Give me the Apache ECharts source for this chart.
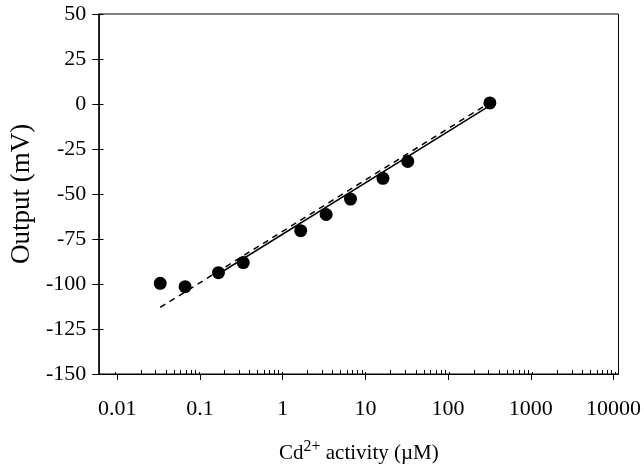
<!DOCTYPE html>
<html>
<head>
<meta charset="utf-8">
<script src="https://cdn.jsdelivr.net/npm/echarts@6.0.0/dist/echarts.min.js"></script>
<style>
html,body{margin:0;padding:0;background:#fff;}
#chart{width:644px;height:469px;}
</style>
</head>
<body>
<div id="chart"></div>
<script>
// ---- data ----
const activity = [0.033, 0.066, 0.167, 0.333, 1.65, 3.35, 6.6, 16.3, 32.5, 320];
const output = [-99.6, -101.5, -93.7, -88.1, -70.4, -61.4, -52.8, -41.3, -31.9, 0.6];
const fitX = [0.16, 316];
const fitY = [-95, -1];
const nernstX = [0.033, 300];
const nernstY = [-113, 0];
const xTickValues = [0.01, 0.1, 1, 10, 100, 1000, 10000];
const xTickLabels = ['0.01', '0.1', '1', '10', '100', '1000', '10000'];
const xMinorMultipliers = [2, 3, 4, 5, 6, 7, 8, 9];
const yMin = -150, yMax = 50, yStep = 25;

const X_MIN = 0.00604, X_MAX = 11480;
const FONT = '"Liberation Serif", "Times New Roman", serif';

const xMinorTicks = [];
xTickValues.forEach(d => xMinorMultipliers.forEach(m => {
  const v = d * m;
  if (v < X_MAX) xMinorTicks.push(v);
}));

function labelFor(v) {
  let best = 0, bd = Infinity;
  xTickValues.forEach((t, i) => {
    const d = Math.abs(Math.log10(v) - Math.log10(t));
    if (d < bd) { bd = d; best = i; }
  });
  return xTickLabels[best];
}

const gridRect = { left: 97.5, right: 23.5, top: 14, bottom: 95 };

const chart = echarts.init(document.getElementById('chart'));
const toPairs = (xs, ys) => xs.map((x, i) => [x, ys[i]]);

const baseX = {
  type: 'log', min: X_MIN, max: X_MAX, position: 'bottom',
  splitLine: { show: false }, minorTick: { show: false }, minorSplitLine: { show: false }
};
const baseY = {
  type: 'value', min: yMin, max: yMax, interval: yStep,
  splitLine: { show: false }
};

chart.setOption({
  animation: false,
  backgroundColor: '#fff',
  grid: [
    Object.assign({ show: true, borderColor: '#000', borderWidth: 1, containLabel: false }, gridRect),
    Object.assign({ show: false }, gridRect),
    Object.assign({ show: false }, gridRect)
  ],
  xAxis: [
    Object.assign({}, baseX, {
      gridIndex: 0,
      axisLine: { show: true, onZero: false, lineStyle: { color: '#000', width: 1 } },
      axisTick: { show: true, inside: false, length: 6, customValues: xTickValues, lineStyle: { color: '#000', width: 1 } },
      axisLabel: {
        show: true, customValues: xTickValues, margin: 24,
        fontFamily: FONT, fontSize: 22, color: '#000',
        formatter: v => labelFor(v)
      },
      name: '{a|Cd}{s|2+}{a| activity (µM)}',
      nameLocation: 'middle', nameGap: 65,
      nameTextStyle: {
        fontFamily: FONT, fontSize: 21, color: '#000',
        rich: {
          a: { fontFamily: FONT, fontSize: 21, color: '#000' },
          s: { fontFamily: FONT, fontSize: 16, color: '#000', padding: [0, 0, 13, 0] }
        }
      }
    }),
    Object.assign({}, baseX, {
      gridIndex: 1,
      axisLine: { show: false, onZero: false },
      axisTick: { show: true, inside: true, length: 4, customValues: xMinorTicks, lineStyle: { color: '#000', width: 1 } },
      axisLabel: { show: false }
    }),
    Object.assign({}, baseX, {
      gridIndex: 2,
      axisLine: { show: false, onZero: false },
      axisTick: { show: true, inside: true, length: 2, customValues: xTickValues, lineStyle: { color: '#000', width: 1 } },
      axisLabel: { show: false }
    })
  ],
  yAxis: [
    Object.assign({}, baseY, {
      gridIndex: 0,
      axisLine: { show: true, onZero: false, lineStyle: { color: '#000', width: 1.5 } },
      axisTick: { show: true, inside: false, length: 7, lineStyle: { color: '#000', width: 1 } },
      axisLabel: { show: true, margin: 13, fontFamily: FONT, fontSize: 22, color: '#000' },
      name: 'Output (mV)', nameLocation: 'middle', nameGap: 56, nameRotate: 90,
      nameTextStyle: { fontFamily: FONT, fontSize: 27, color: '#000' }
    }),
    Object.assign({}, baseY, {
      gridIndex: 1, position: 'left',
      axisLine: { show: false, onZero: false },
      axisTick: { show: true, inside: true, length: 6, lineStyle: { color: '#000', width: 1 } },
      axisLabel: { show: false }
    }),
    Object.assign({}, baseY, {
      gridIndex: 2,
      axisLine: { show: false, onZero: false },
      axisTick: { show: false },
      axisLabel: { show: false }
    })
  ],
  series: [
    {
      type: 'line', xAxisIndex: 0, yAxisIndex: 0,
      data: toPairs(nernstX, nernstY), showSymbol: false, symbol: 'none',
      lineStyle: { color: '#000', width: 1.5, type: [6, 5] }, z: 2
    },
    {
      type: 'line', xAxisIndex: 0, yAxisIndex: 0,
      data: toPairs(fitX, fitY), showSymbol: false, symbol: 'none',
      lineStyle: { color: '#000', width: 1.5, type: 'solid' }, z: 2
    },
    {
      type: 'scatter', xAxisIndex: 0, yAxisIndex: 0,
      data: toPairs(activity, output), symbol: 'circle', symbolSize: 13,
      itemStyle: { color: '#000', opacity: 1 }, z: 3
    }
  ]
});
</script>
</body>
</html>
